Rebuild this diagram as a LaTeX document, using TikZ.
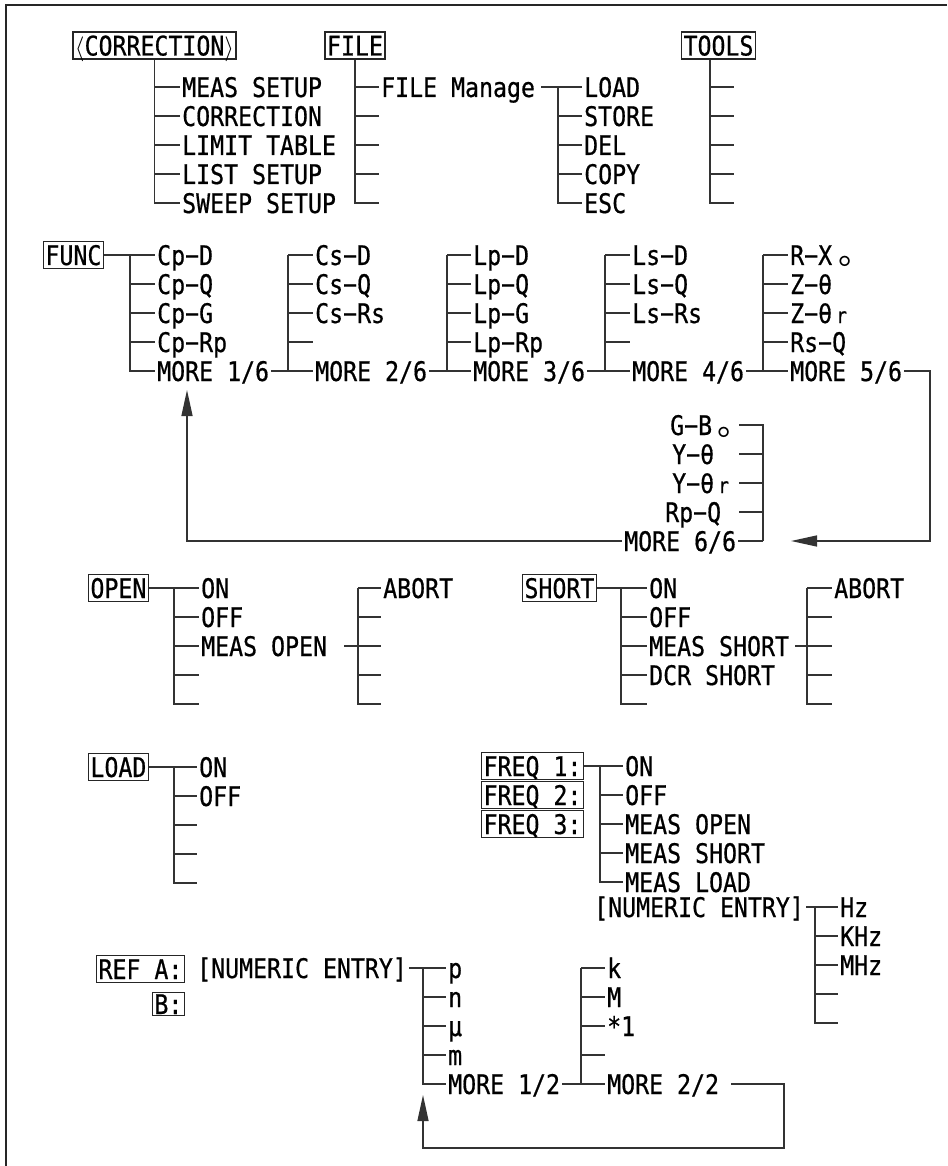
\documentclass[tikz,border=0pt]{standalone}
\usepackage{fontspec}
\usetikzlibrary{arrows.meta}
\newfontfamily\monofont{DejaVu Sans Mono}[FakeStretch=0.86,FakeBold=0.6]
\newfontfamily\cjkfont{Noto Sans CJK SC}
\newcommand{\tfont}{\monofont\fontsize{27}{29}\selectfont}
\newcommand{\cjdot}{{\cjkfont\fontsize{34}{34}\selectfont 。}}
\newcommand{\smr}{{\fontsize{21}{21}\selectfont r}}
\begin{document}
\begin{tikzpicture}[x=1pt,y=-1pt,
  ln/.style={line width=1.4pt, draw=black!80},
  item/.style={anchor=west, inner xsep=2pt, inner ysep=0pt, text height=20pt, text depth=0pt, font=\tfont},
  box/.style={draw=black!85, line width=1.2pt, inner xsep=2pt, inner ysep=0pt, text height=20pt, text depth=0pt, minimum height=27pt, font=\tfont},
  arr/.style={ln, -{Triangle[length=26pt,width=11pt]}}
]
\useasboundingbox (0,0) rectangle (947,1166);
\draw[line width=2.5pt, black!85] (947,5) -- (6,5) -- (6,1166);

% ---------------- top row ----------------
\node[box] (corr) at (154.5,45.5) {$\langle$CORRECTION$\rangle$};
\foreach \t [count=\i from 0] in {{MEAS SETUP},{CORRECTION},{LIMIT TABLE},{LIST SETUP},{SWEEP SETUP}}
  {\node[item] (ca\i) at (180,87+29*\i) {\t};
   \draw[ln] (corr.south) |- (ca\i.west);}

\node[box] (file) at (355,45.5) {FILE};
\node[item] (fm) at (379,87) {FILE Manage};
\draw[ln] (file.south) |- (fm.west);
\foreach \i in {1,...,4}
  {\coordinate (fe\i) at (379,87+29*\i);
   \draw[ln] (file.south) |- (fe\i);}
\coordinate (fmb) at (558,87);
\foreach \t [count=\i from 0] in {LOAD,STORE,DEL,COPY,ESC}
  {\node[item] (fl\i) at (582,87+29*\i) {\t};
   \draw[ln] (fmb) |- (fl\i.west);}
\draw[ln] ([xshift=4pt]fm.east) -- (fl0.west);

\node[box] (tools) at (718.5,45.5) {TOOLS};
\coordinate (tb) at ([xshift=-8.5pt]tools.south);
\foreach \i in {0,...,4}
  {\coordinate (te\i) at (734,87+29*\i);
   \draw[ln] (tb) |- (te\i);}

% ---------------- FUNC ----------------
\node[box,anchor=east] (func) at (104,255) {FUNC};
\coordinate (ab) at (130,255);
\foreach \t [count=\i from 0] in {Cp−D,Cp−Q,Cp−G,Cp−Rp,{MORE 1/6}}
  {\node[item] (a\i) at (155,255+29*\i) {\t};
   \draw[ln] (ab) |- (a\i.west);}
\draw[ln] (func.east) -- (a0.west);

\coordinate (bb) at (288,255);
\foreach \t [count=\i from 0] in {Cs−D,Cs−Q,Cs−Rs,{},{MORE 2/6}}
  {\node[item] (b\i) at (313,255+29*\i) {\t};
   \draw[ln] (bb) |- (b\i.west);}
\draw[ln] (a4.east) -- (b4.west);

\coordinate (cb) at (447,255);
\foreach \t [count=\i from 0] in {Lp−D,Lp−Q,Lp−G,Lp−Rp,{MORE 3/6}}
  {\node[item] (c\i) at (471,255+29*\i) {\t};
   \draw[ln] (cb) |- (c\i.west);}
\draw[ln] (b4.east) -- (c4.west);

\coordinate (db) at (605,255);
\foreach \t [count=\i from 0] in {Ls−D,Ls−Q,Ls−Rs,{},{MORE 4/6}}
  {\node[item] (d\i) at (630,255+29*\i) {\t};
   \draw[ln] (db) |- (d\i.west);}
\draw[ln] (c4.east) -- (d4.west);

\coordinate (eb) at (763,255);
\foreach \t [count=\i from 0] in {{R−X\hspace{6pt}\cjdot},Z−θ,{Z−θ\hspace{4pt}\smr},Rs−Q,{MORE 5/6}}
  {\node[item] (e\i) at (788,255+29*\i) {\t};
   \draw[ln] (eb) |- (e\i.west);}
\draw[ln] (d4.east) -- (e4.west);

% MORE 6/6 block
\node[item] (g0) at (668,425) {G−B\hspace{5pt}\cjdot};
\node[item] (g1) at (670,454) {Y−θ};
\node[item] (g2) at (670,483) {Y−θ\hspace{4pt}\smr};
\node[item] (g3) at (663,512) {Rp−Q};
\node[item] (g4) at (622,541) {MORE 6/6};
\coordinate (gb) at (763,541);
\foreach \i in {0,...,3}
  {\coordinate (gl\i) at (739,425+29*\i);
   \draw[ln] (gb) |- (gl\i);}
\draw[ln] (g4.east) -- (gb);

\coordinate (r2) at (930,541);
\coordinate (r3) at (791,541);
\draw[arr] (e4.east) -| (r2) -- (r3);
\coordinate (rt) at (187,390);
\draw[arr] (g4.west) -| (rt);

% ---------------- OPEN ----------------
\node[box,anchor=east] (open) at (149,588) {OPEN};
\coordinate (ob) at (174,588);
\foreach \t [count=\i from 0] in {ON,OFF,{MEAS OPEN},{},{}}
  {\node[item] (o\i) at (199,588+29*\i) {\t};
   \draw[ln] (ob) |- (o\i.west);}
\draw[ln] (open.east) -- (o0.west);
\coordinate (pb) at (358,588);
\foreach \t [count=\i from 0] in {ABORT,{},{},{},{}}
  {\node[item] (p\i) at (381,588+29*\i) {\t};
   \draw[ln] (pb) |- (p\i.west);}
\draw[ln] ([xshift=15pt]o2.east) -- (p2.west);

% ---------------- SHORT ----------------
\node[box,anchor=east] (short) at (597,588) {SHORT};
\coordinate (sb) at (621,588);
\foreach \t [count=\i from 0] in {ON,OFF,{MEAS SHORT},{DCR SHORT},{}}
  {\node[item] (s\i) at (647,588+29*\i) {\t};
   \draw[ln] (sb) |- (s\i.west);}
\draw[ln] (short.east) -- (s0.west);
\coordinate (ub) at (807,588);
\foreach \t [count=\i from 0] in {ABORT,{},{},{},{}}
  {\node[item] (u\i) at (832,588+29*\i) {\t};
   \draw[ln] (ub) |- (u\i.west);}
\draw[ln] ([xshift=4pt]s2.east) -- (u2.west);

% ---------------- LOAD ----------------
\node[box,anchor=east] (load) at (149,767) {LOAD};
\coordinate (lb) at (174,767);
\foreach \t [count=\i from 0] in {ON,OFF,{},{},{}}
  {\node[item] (l\i) at (197,767+29*\i) {\t};
   \draw[ln] (lb) |- (l\i.west);}
\draw[ln] (load.east) -- (l0.west);

% ---------------- FREQ ----------------
\node[box,anchor=west] (fq1) at (481,766) {FREQ 1:};
\node[box,anchor=west] (fq2) at (481,795) {FREQ 2:};
\node[box,anchor=west] (fq3) at (481,824) {FREQ 3:};
\coordinate (hb) at (600,766);
\foreach \t [count=\i from 0] in {ON,OFF,{MEAS OPEN},{MEAS SHORT},{MEAS LOAD}}
  {\node[item] (h\i) at (623,766+29*\i) {\t};
   \draw[ln] (hb) |- (h\i.west);}
\draw[ln] (fq1.east) -- (h0.west);
\node[item] (ne1) at (592,907) {[NUMERIC ENTRY]};
\coordinate (zb) at (815,907);
\foreach \t [count=\i from 0] in {Hz,KHz,MHz,{},{}}
  {\node[item] (z\i) at (838,907+29*\i) {\t};
   \draw[ln] (zb) |- (z\i.west);}
\draw[ln] (ne1.east) -- (z0.west);

% ---------------- REF ----------------
\node[box,anchor=east] (refa) at (185,969) {REF A:};
\node[box,anchor=east,minimum height=23pt] (refb) at (185,1004) {B:};
\node[item] (ne2) at (195,968) {[NUMERIC ENTRY]};
\coordinate (mb) at (423,968);
\foreach \t [count=\i from 0] in {p,n,μ,m,{MORE 1/2}}
  {\node[item] (m\i) at (446,968+29*\i) {\t};
   \draw[ln] (mb) |- (m\i.west);}
\draw[ln] (ne2.east) -- (m0.west);
\coordinate (kb) at (581,968);
\foreach \t [count=\i from 0] in {k,M,*1,{},{MORE 2/2}}
  {\node[item] (k\i) at (605,968+29*\i) {\t};
   \draw[ln] (kb) |- (k\i.west);}
\draw[ln] (m4.east) -- (k4.west);
\coordinate (q1) at (784,1148);
\coordinate (q2) at (423,1095);
\draw[arr] ([xshift=10pt]k4.east) -| (q1) -| (q2);
\end{tikzpicture}
\end{document}
